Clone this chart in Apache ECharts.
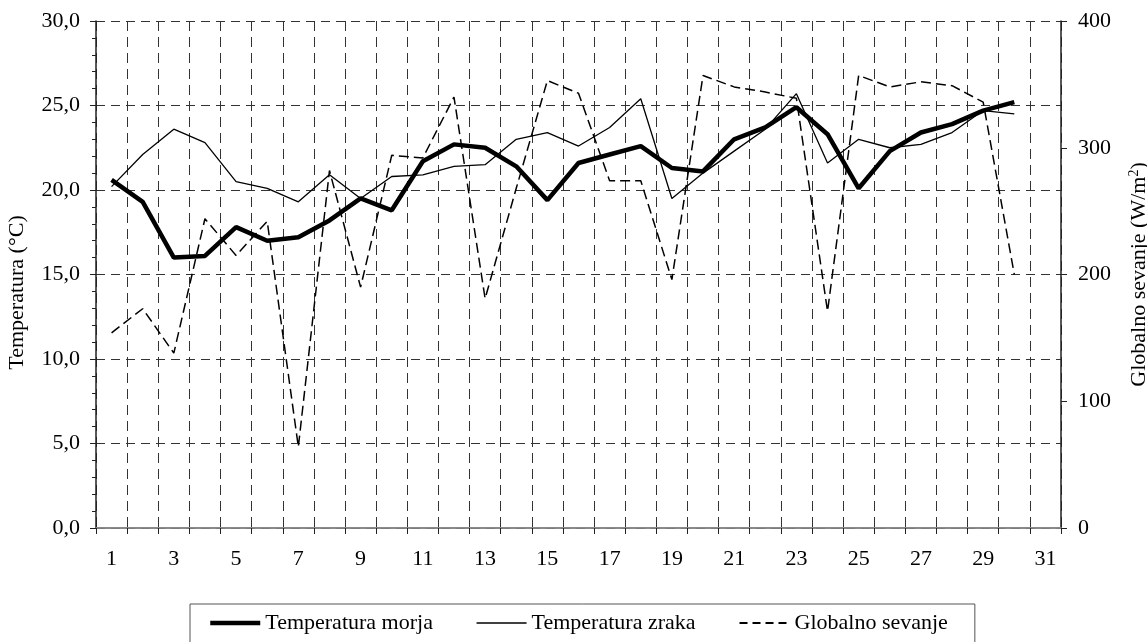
<!DOCTYPE html>
<html>
<head>
<meta charset="utf-8">
<script src="https://cdn.jsdelivr.net/npm/echarts@6/dist/echarts.min.js"></script>
<style>
html,body{margin:0;padding:0;background:#fff;}
#chart{width:1147px;height:642px;}
</style>
</head>
<body>
<div id="chart"></div>
<script>
var days = ['1','2','3','4','5','6','7','8','9','10','11','12','13','14','15','16','17','18','19','20','21','22','23','24','25','26','27','28','29','30','31'];
var temperaturaMorja = [20.6, 19.3, 16.0, 16.1, 17.8, 17.0, 17.2, 18.2, 19.5, 18.8, 21.7, 22.7, 22.5, 21.4, 19.4, 21.6, 22.1, 22.6, 21.3, 21.1, 23.0, 23.7, 24.9, 23.3, 20.1, 22.3, 23.4, 23.9, 24.7, 25.2];
var temperaturaZraka = [20.2, 22.1, 23.6, 22.8, 20.5, 20.1, 19.3, 20.9, 19.5, 20.8, 20.9, 21.4, 21.5, 23.0, 23.4, 22.6, 23.7, 25.4, 19.5, 21.0, 22.3, 23.6, 25.7, 21.6, 23.0, 22.5, 22.7, 23.4, 24.7, 24.5];
var globalnoSevanje = [154, 173, 138, 244, 215, 242, 64, 282, 190, 294, 292, 340, 181, 268, 353, 343, 274, 274, 196, 357, 348, 344, 339, 171, 357, 348, 352, 349, 336, 200];
var leftTickLabels = ['0,0','5,0','10,0','15,0','20,0','25,0','30,0'];
var rightTickLabels = ['0','100','200','300','400'];
var seriesNames = ['Temperatura morja','Temperatura zraka','Globalno sevanje'];

var FONT = "'Liberation Serif','Times New Roman',serif";
var chart = echarts.init(document.getElementById('chart'), null, {renderer:'canvas'});
chart.setOption({
  animation:false,
  backgroundColor:'#fff',
  textStyle:{fontFamily:FONT, color:'#000'},
  grid:{left:96, right:86, top:21, bottom:114, containLabel:false, outerBoundsMode:'none'},
  legend:{
    left:190, top:604,
    orient:'horizontal',
    itemWidth:50, itemHeight:14, itemGap:43,
    padding:[8,27,30,18],
    borderColor:'#555', borderWidth:1,
    itemStyle:{opacity:0},
    textStyle:{fontFamily:FONT, fontSize:22, color:'#000', padding:[0,0,0,0]},
    data:[
      {name:seriesNames[0], lineStyle:{width:4.5, color:'#000', type:'solid'}, itemStyle:{opacity:0}},
      {name:seriesNames[1], lineStyle:{width:1.3, color:'#000', type:'solid'}, itemStyle:{opacity:0}},
      {name:seriesNames[2], lineStyle:{width:2, color:'#000', type:[8,5]}, itemStyle:{opacity:0}}
    ]
  },
  xAxis:[{
    type:'category', data:days, boundaryGap:true, position:'bottom',
    axisLine:{lineStyle:{color:'#222', width:1.5}},
    axisTick:{show:true, interval:0, length:6, lineStyle:{color:'#222'}},
    axisLabel:{interval:1, margin:20, fontFamily:FONT, fontSize:22, color:'#000'},
    splitLine:{show:true, interval:0, lineStyle:{color:'#333', type:[10,6], width:1}}
  },{
    type:'category', data:days, boundaryGap:true, position:'top',
    axisLine:{show:true, lineStyle:{color:'#999', width:1.5}},
    axisTick:{show:false}, axisLabel:{show:false}, splitLine:{show:false}
  }],
  yAxis:[{
    type:'value', min:0, max:30, interval:5, position:'left',
    name:'Temperatura (°C)', nameLocation:'middle', nameRotate:90, nameGap:68,
    nameTextStyle:{fontFamily:FONT, fontSize:22, color:'#000', padding:[0,36,0,0]},
    axisLine:{show:true, lineStyle:{color:'#222', width:1.5}},
    axisTick:{show:true, length:6, lineStyle:{color:'#222'}},
    minorTick:{show:true, splitNumber:5, length:4, lineStyle:{color:'#222'}},
    axisLabel:{margin:16, fontFamily:FONT, fontSize:22, color:'#000',
      formatter:function(v){ return leftTickLabels[Math.round(v/5)]; }},
    splitLine:{show:true, lineStyle:{color:'#333', type:[9,6], width:1}}
  },{
    type:'value', min:0, max:400, interval:100, position:'right',
    name:'Globalno sevanje (W/m{sup|2})', nameLocation:'middle', nameRotate:90, nameGap:66,
    nameTextStyle:{fontFamily:FONT, fontSize:22, color:'#000',
      rich:{sup:{fontFamily:FONT, fontSize:14, color:'#000', verticalAlign:'top', padding:[0,0,10,0]}}},
    axisLine:{show:true, lineStyle:{color:'#222', width:1.5}},
    axisTick:{show:true, length:6, lineStyle:{color:'#222'}},
    axisLabel:{margin:17, fontFamily:FONT, fontSize:22, color:'#000',
      formatter:function(v){ return rightTickLabels[Math.round(v/100)]; }},
    splitLine:{show:false}
  }],
  series:[{
    name:seriesNames[0], type:'line', data:temperaturaMorja, xAxisIndex:0, yAxisIndex:0,
    symbol:'none', z:5,
    lineStyle:{color:'#000', width:4.5}, itemStyle:{color:'#000'}
  },{
    name:seriesNames[1], type:'line', data:temperaturaZraka, xAxisIndex:0, yAxisIndex:0,
    symbol:'none', z:4,
    lineStyle:{color:'#000', width:1.3}, itemStyle:{color:'#000'}
  },{
    name:seriesNames[2], type:'line', data:globalnoSevanje, xAxisIndex:0, yAxisIndex:1,
    symbol:'none', z:3,
    lineStyle:{color:'#000', width:1.5, type:[10,5]}, itemStyle:{color:'#000'}
  }]
});
</script>
</body>
</html>
